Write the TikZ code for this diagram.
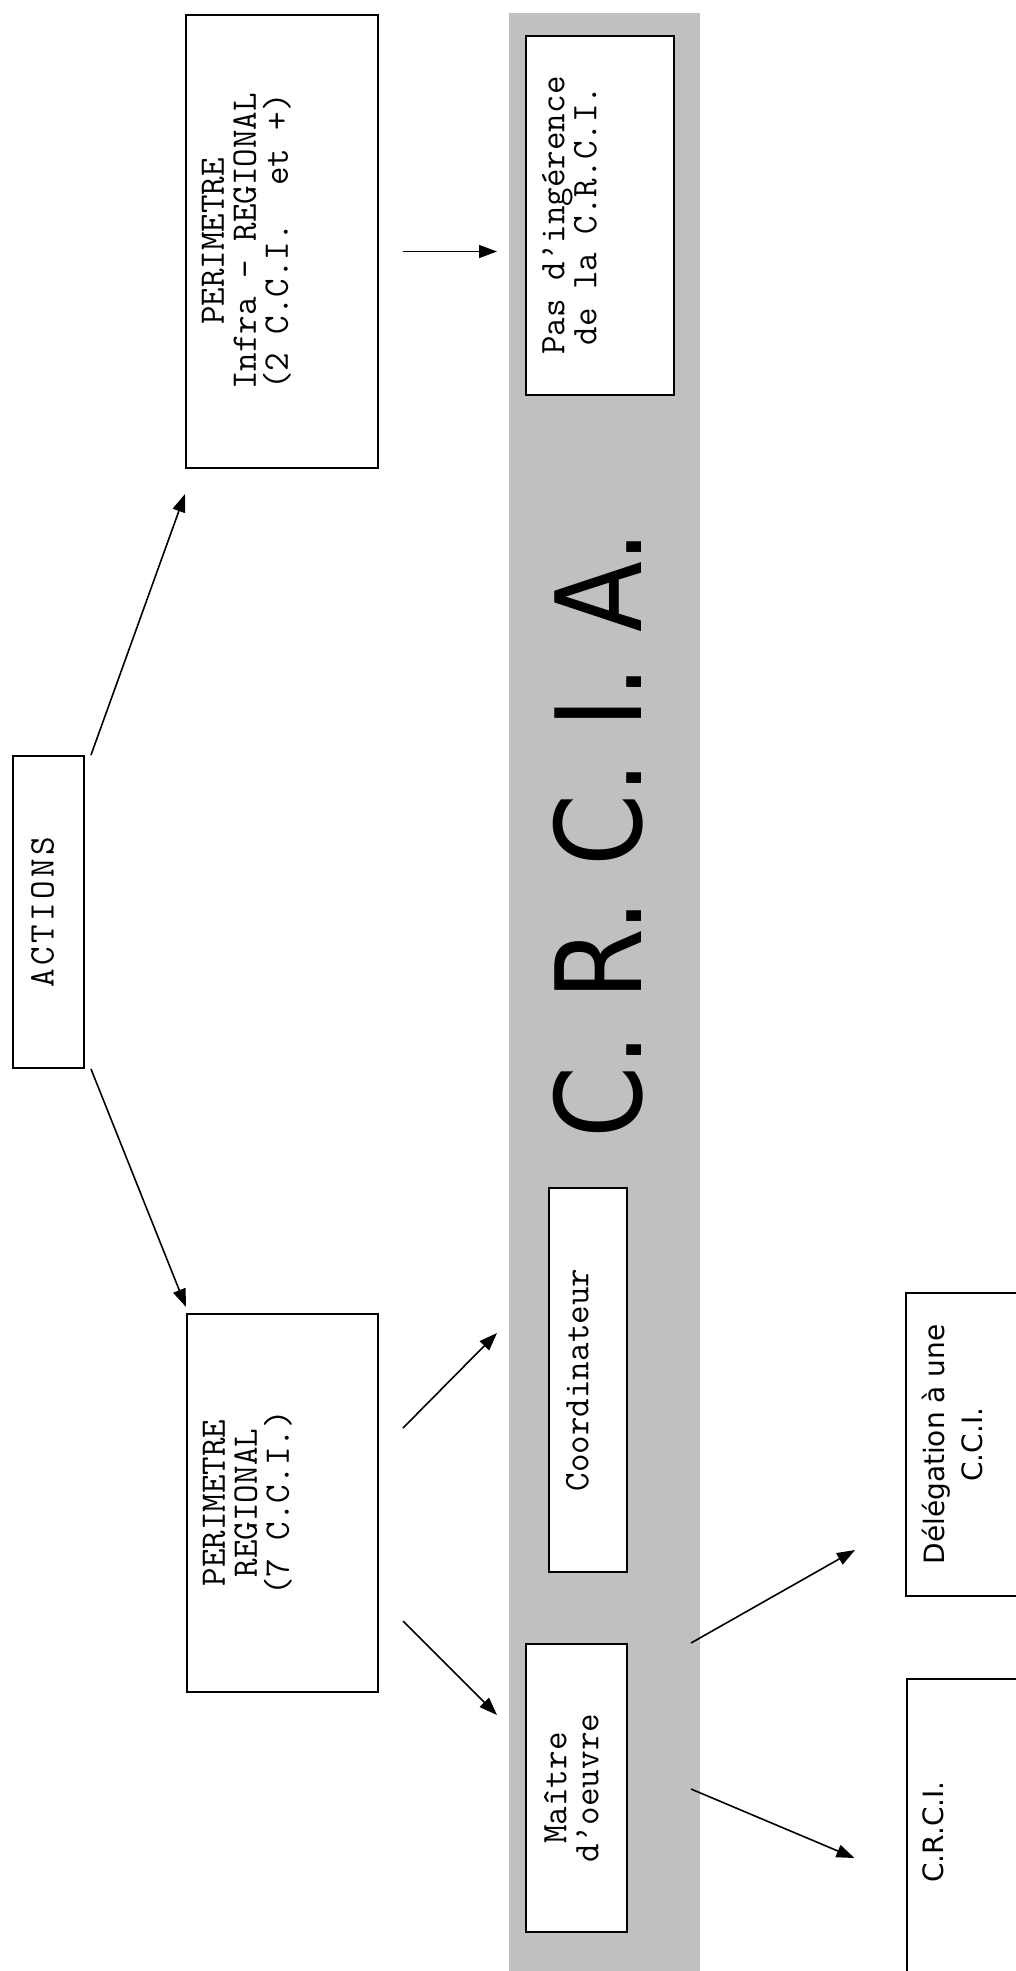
\documentclass[tikz,border=0pt]{standalone}
\usepackage{fontspec}
\usepackage{graphicx}
\newfontfamily\sansfont{DejaVu Sans}
\newfontfamily\bigfont[FakeStretch=0.87]{DejaVu Sans}
\usetikzlibrary{calc,arrows.meta}
\definecolor{bandgray}{HTML}{C0C0C0}
\frenchspacing
% box text: page height, page width, top padding, text
\newcommand{\boxtext}[4]{\rotatebox{90}{\parbox[c][#2][t]{#1}{\centering\vspace*{#3}#4}}}
\newcommand{\ls}{\kern1.75pt}
\tikzset{
    every node/.style={font=\ttfamily\fontsize{18}{16}\selectfont},
    frame node/.style={draw, line width=1pt, fill=white, inner sep=0pt},
    link/.style={-{Triangle[length=9pt,width=6.5pt]}, line width=0.8pt}
}

\begin{document}
\begin{tikzpicture}[x=0.5pt,y=-0.5pt]
    \useasboundingbox (0,0) rectangle (1016,1971);
    \clip (0,0) rectangle (1016,1971);
    \fill[bandgray] (509,13) rectangle (700,1971);

    \node[frame node] (infra) at (282,241.5) {\boxtext{226.5pt}{96pt}{8pt}{PERIMETRE\\Infra – REGIONAL\\(2 C.C.I.~ et +)}};
    \node[frame node] (pas) at (600,215.5) {\boxtext{179.5pt}{74pt}{8pt}{Pas d’ingérence\\de la C.R.C.I.}};
    \node[frame node] (act) at (48.5,912) {\boxtext{156pt}{35.5pt}{9pt}{A\ls C\ls T\ls I\ls O\ls N\ls S}};
    \node[frame node] (reg) at (282.5,1503) {\boxtext{189pt}{95.5pt}{8pt}{PERIMETRE\\REGIONAL\\(7 C.C.I.)}};
    \node[frame node] (coord) at (588,1380) {\boxtext{192pt}{39pt}{8.5pt}{Coordinateur}};
    \node[frame node] (maitre) at (576.5,1788) {\boxtext{144pt}{50.5pt}{9pt}{Maître\\d’oeuvre}};
    \node[frame node] (deleg) at (983,1444.5) {\boxtext{151.5pt}{77pt}{8pt}{\sansfont\fontsize{14}{19}\selectfont Délégation à une\\C.C.I.}};
    \node[frame node] (crci) at (983.5,1832) {\boxtext{153pt}{77pt}{8pt}{\sansfont\fontsize{14}{19}\selectfont C.R.C.I.}};
    \node[rotate=90, inner sep=0pt, font=\bigfont\fontsize{59.5}{60}\selectfont] (title) at (598.5,834.5) {C. R. C. I. A.};

    \draw[link] ([xshift=3pt]act.north east) -- ([yshift=-12.5pt]infra.south west);
    \draw[link] ([xshift=3pt]act.south east) -- ([yshift=3pt]reg.north west);
    \draw[link] ($(infra.east)+(24,10)$) -- ($(pas.west)+(-28,36)$);
    \draw[link] ($(reg.east)+(24,-75)$) -- ($(coord.west)+(-51,-47)$);
    \draw[link] ($(reg.east)+(24,118)$) -- ($(maitre.west)+(-28,-73)$);
    \draw[link] ($(maitre.north east)+(63,0)$) -- ($(deleg.south west)+(-50,-47)$);
    \draw[link] ($(maitre.east)+(63,1)$) -- ($(crci.west)+(-51,26)$);
\end{tikzpicture}
\end{document}
